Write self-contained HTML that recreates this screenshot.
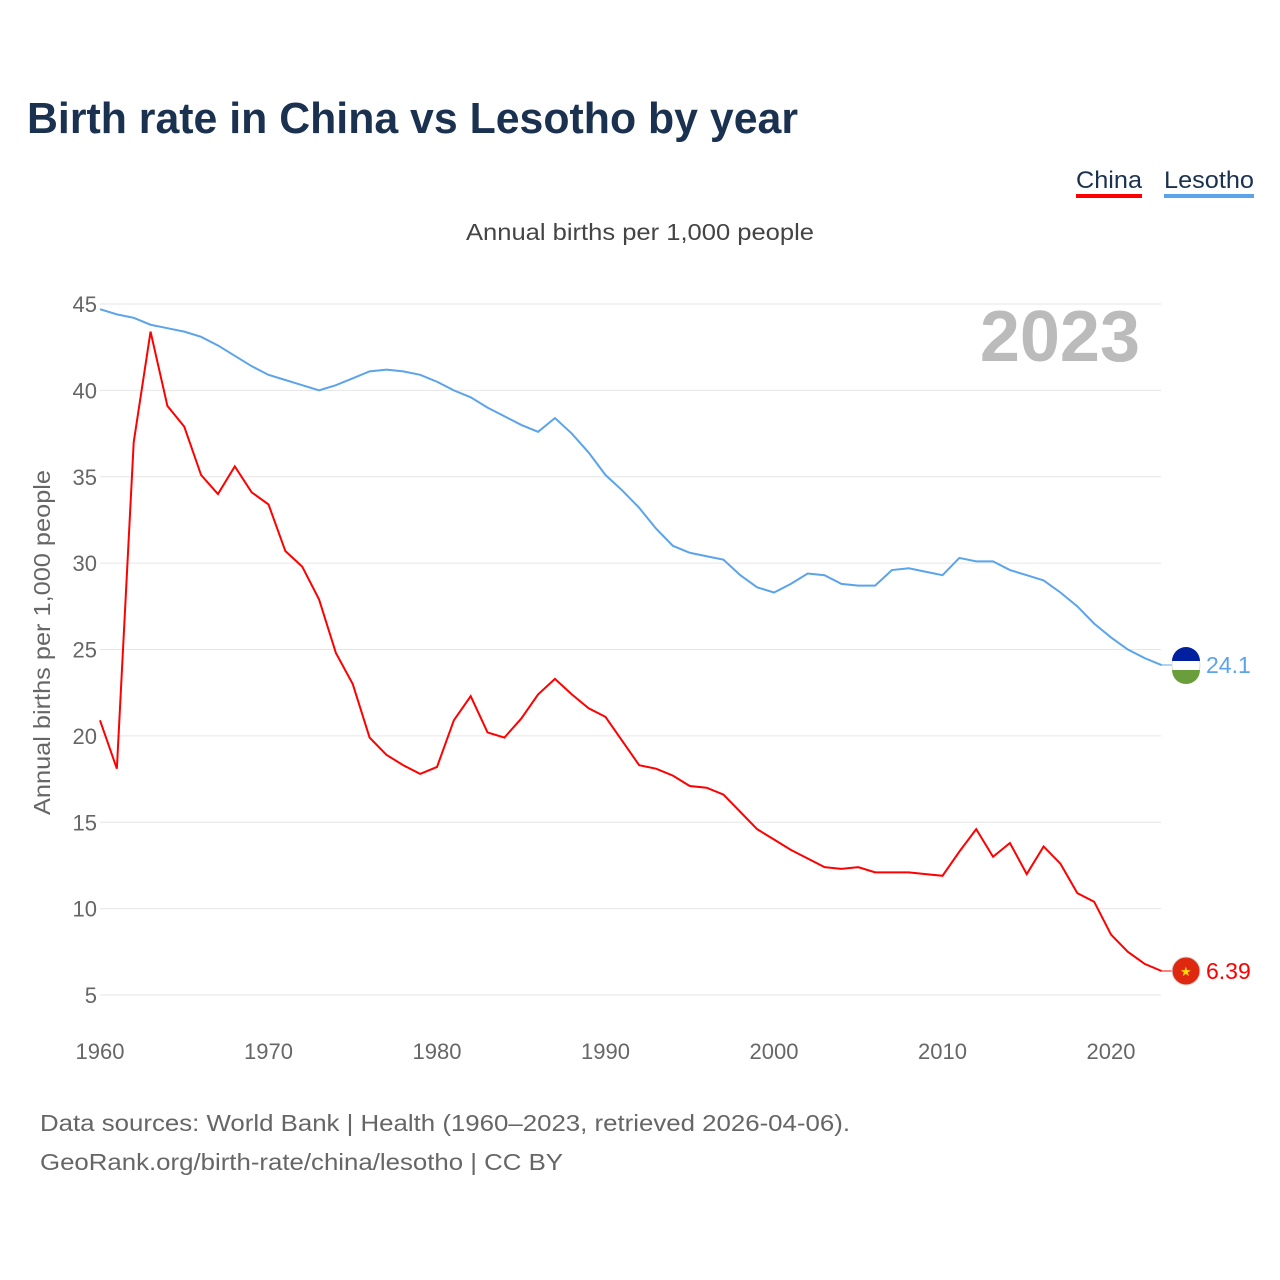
<!DOCTYPE html>
<html><head><meta charset="utf-8"><style>
body{margin:0;background:#fff;font-family:"Liberation Sans",sans-serif;}
#wrap{position:relative;width:1280px;height:1280px;overflow:hidden;}
</style></head><body>
<div id="wrap">
<svg id="chart" width="1280" height="1280">
<text x="27" y="133" font-size="44" font-weight="bold" fill="#1a3150" textLength="771" lengthAdjust="spacingAndGlyphs">Birth rate in China vs Lesotho by year</text>
<g><text x="1076" y="188" font-size="24" fill="#1a3150" textLength="66" lengthAdjust="spacingAndGlyphs">China</text><rect x="1076" y="194" width="66" height="4" fill="#f00"/></g>
<g><text x="1164" y="188" font-size="24" fill="#1a3150" textLength="90" lengthAdjust="spacingAndGlyphs">Lesotho</text><rect x="1164" y="194" width="90" height="4" fill="#5ba4ea"/></g>
<text x="466" y="240" font-size="23" fill="#444" textLength="348" lengthAdjust="spacingAndGlyphs">Annual births per 1,000 people</text>
<text x="1140" y="361" font-size="72" font-weight="bold" fill="#bbb" text-anchor="end">2023</text>
<text transform="translate(50,815) rotate(-90)" font-size="23" fill="#666" textLength="345" lengthAdjust="spacingAndGlyphs">Annual births per 1,000 people</text>
<g id="grid"></g><g id="series"></g>
<text x="40" y="1131" font-size="23" fill="#666" textLength="810" lengthAdjust="spacingAndGlyphs">Data sources: World Bank | Health (1960–2023, retrieved 2026-04-06).</text>
<text x="40" y="1170" font-size="23" fill="#666" textLength="523" lengthAdjust="spacingAndGlyphs">GeoRank.org/birth-rate/china/lesotho | CC BY</text>
</svg>
</div>
<script>
const years=[];for(let y=1960;y<=2023;y++)years.push(y);
const yTicks=[5,10,15,20,25,30,35,40,45];
const xTicks=[1960,1970,1980,1990,2000,2010,2020];
const china=[20.9,18.1,37.0,43.4,39.1,37.9,35.1,34.0,35.6,34.1,33.4,30.7,29.8,27.9,24.8,23.0,19.9,18.9,18.3,17.8,18.2,20.9,22.3,20.2,19.9,21.0,22.4,23.3,22.4,21.6,21.1,19.7,18.3,18.1,17.7,17.1,17.0,16.6,15.6,14.6,14.0,13.4,12.9,12.4,12.3,12.4,12.1,12.1,12.1,12.0,11.9,13.3,14.6,13.0,13.8,12.0,13.6,12.6,10.9,10.4,8.5,7.5,6.8,6.39];
const lesotho=[44.7,44.4,44.2,43.8,43.6,43.4,43.1,42.6,42.0,41.4,40.9,40.6,40.3,40.0,40.3,40.7,41.1,41.2,41.1,40.9,40.5,40.0,39.6,39.0,38.5,38.0,37.6,38.4,37.5,36.4,35.1,34.2,33.2,32.0,31.0,30.6,30.4,30.2,29.3,28.6,28.3,28.8,29.4,29.3,28.8,28.7,28.7,29.6,29.7,29.5,29.3,30.3,30.1,30.1,29.6,29.3,29.0,28.3,27.5,26.5,25.7,25.0,24.5,24.1];
const X=y=>100+(y-1960)*16.85, Y=v=>304+(45-v)*17.275;
const NS="http://www.w3.org/2000/svg";
const mk=(t,a,p)=>{const e=document.createElementNS(NS,t);for(const k in a)e.setAttribute(k,a[k]);p.appendChild(e);return e;};
const grid=document.getElementById('grid'),ser=document.getElementById('series');
yTicks.forEach(v=>{
 const l=mk('line',{x1:100,x2:1161,y1:Y(v),y2:Y(v),stroke:'#e6e6e6','stroke-width':1},grid);
 
 
 const t=mk('text',{x:97,y:Y(v)+8,'font-size':22,fill:'#666','text-anchor':'end'},grid);t.textContent=v;
 
 
});
xTicks.forEach(v=>{
 const t=mk('text',{x:X(v),y:1059,'font-size':22,fill:'#666','text-anchor':'middle'},grid);t.textContent=v;
 
 
});
function line(data,color,name,label){
 const p=mk('polyline',{points:data.map((v,i)=>X(years[i])+','+Y(v)).join(' '),fill:'none',stroke:color,'stroke-width':2},ser);
 
 
 const last=data[data.length-1],lx=X(years[years.length-1]),ly=Y(last);
 mk('line',{x1:lx,x2:1186,y1:ly,y2:ly,stroke:color,'stroke-width':1},ser);
 const c=mk('circle',{cx:1186,cy:ly,r:14,fill:name==='china'?'#de2910':'#fff',stroke:'#ddd'},ser);
 
 
 if(name==='lesotho'){mk('path',{d:`M1172 ${ly-4} A14 14 0 0 1 1200 ${ly-4} Z`,fill:'#00209f'},ser);mk('path',{d:`M1172 ${ly+5} A14 14 0 0 0 1200 ${ly+5} Z`,fill:'#6a9e3a'},ser);}
 else{const s=mk('text',{x:1180,y:ly+5,'font-size':13,fill:'#ffde00'},ser);s.textContent='★';}
 const t=mk('text',{x:1206,y:ly+8,'font-size':23,fill:color},ser);t.textContent=label;
 
 
}
line(lesotho,'#5ba4ea','lesotho','24.1');
line(china,'#f00','china','6.39');
</script>
</body></html>
